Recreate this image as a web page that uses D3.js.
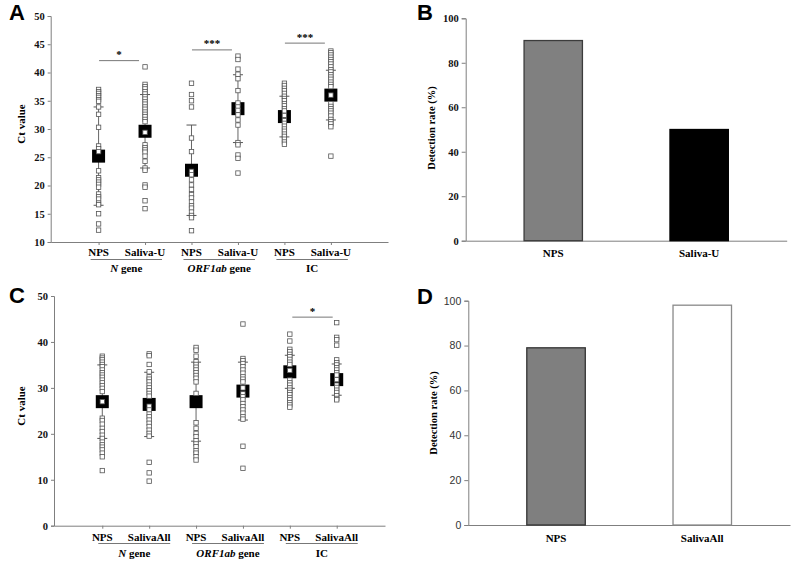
<!DOCTYPE html>
<html><head><meta charset="utf-8">
<script src="https://cdn.jsdelivr.net/npm/d3@7"></script>
<style>body{margin:0;background:#fff}svg{display:block}</style>
</head><body>
<svg id="fig" width="797" height="565"></svg>
<script>
// ---------- DATA ----------
const groupNames = ["N gene", "ORF1ab gene", "IC"];
const catsA = ["NPS", "Saliva-U", "NPS", "Saliva-U", "NPS", "Saliva-U"];
const catsC = ["NPS", "SalivaAll", "NPS", "SalivaAll", "NPS", "SalivaAll"];
const ticksA = [10, 15, 20, 25, 30, 35, 40, 45, 50];
const ticksC = [0, 10, 20, 30, 40, 50];
const ticksBar = [0, 20, 40, 60, 80, 100];

// Panel A: individual Ct values
const aN_NPS = [37.0,36.6,36.3,35.9,35.6,35.2,34.9,33.9,32.6,30.3,27.0,26.5,26.0,22.6,21.4,21.0,20.6,20.2,19.7,18.5,18.0,17.6,16.9,16.6,15.0,13.2,12.1];
const aN_Sal = [41.0,37.9,37.5,37.1,36.6,36.2,35.7,35.3,34.8,34.4,33.9,33.5,33.0,32.6,32.2,31.7,31.3,29.4,27.2,26.7,26.3,25.9,25.2,24.3,23.1,22.7,20.1,19.7,17.3,15.9];
const aORF_NPS = [38.1,36.1,35.0,33.9,28.4,26.0,22.5,21.9,21.0,20.1,19.3,18.4,17.8,17.1,16.4,16.0,15.3,14.7,14.3,12.0];
const aORF_Sal = [42.9,42.3,40.6,39.7,38.9,36.8,34.6,33.9,33.3,32.5,31.6,30.7,27.6,27.2,25.4,24.8,22.2];
const aIC_NPS = [38.1,37.7,37.2,36.8,36.3,35.8,35.4,35.0,34.5,34.1,33.6,33.2,32.4,31.5,31.0,30.5,30.0,29.6,29.1,28.7,28.2,27.7,27.3];
const aIC_Sal = [43.8,43.5,43.1,42.7,42.3,41.9,41.5,41.0,40.5,40.1,39.6,39.2,38.8,38.3,37.9,37.5,36.0,34.5,34.0,33.6,33.2,32.8,32.3,31.7,31.3,30.9,30.4,25.2];
const meansA = [25.2, 29.6, 22.7, 33.6, 32.2, 36.0];
const sdA = [8.7, 6.5, 8.0, 6.0, 3.6, 4.4];
const sigA = [{g:0, y:42.1, label:"*"}, {g:1, y:44.0, label:"***"}, {g:2, y:45.2, label:"***"}];

// Panel C: individual Ct values
const cN_NPS = [36.9,36.5,36.1,35.6,35.1,34.6,33.9,33.3,32.8,32.3,31.7,31.1,30.5,29.9,29.2,27.0,23.4,22.9,22.1,21.2,20.5,19.7,19.0,18.2,17.6,17.1,16.5,15.8,15.0,12.0];
const cN_Sal = [37.4,37.0,35.1,33.5,32.4,31.9,31.3,30.6,30.0,29.4,28.8,28.2,26.0,25.2,24.3,23.7,23.0,22.3,21.6,20.8,20.1,19.5,13.8,11.5,9.7];
const cORF_NPS = [38.8,38.2,36.9,35.7,35.1,34.5,33.9,33.3,32.7,32.1,31.3,28.8,22.4,21.2,20.1,19.4,18.5,17.8,17.2,16.3,15.8,15.0,14.3];
const cORF_Sal = [43.9,36.4,35.9,35.3,34.6,33.9,33.2,32.4,31.9,31.3,30.0,28.7,28.1,27.4,26.6,25.9,25.2,24.5,23.7,23.2,17.3,12.5];
const cIC_NPS = [41.7,40.2,38.4,37.9,37.3,36.8,36.2,35.6,35.1,33.8,31.7,31.1,30.6,30.0,29.5,29.0,28.5,27.9,27.4,26.8,26.3,25.8];
const cIC_Sal = [44.2,41.0,40.5,39.3,36.1,35.5,35.0,34.4,33.9,33.3,32.8,31.8,30.6,30.1,29.5,29.0,28.3,27.7,27.4];
const meansC = [27.0, 26.4, 27.0, 29.3, 33.5, 31.8];
const sdC = [8.0, 7.0, 8.6, 6.3, 3.6, 3.4];
const sigC = [{g:2, y:45.4, label:"*"}];

// Panels B and D: detection rates (%)
const catsB = ["NPS", "Saliva-U"];
const ratesB = [90, 50];
const catsD = ["NPS", "SalivaAll"];
const ratesD = [79, 98];

// ---------- DRAWING ----------
const svg = d3.select("#fig");
const SERIF = "'Liberation Serif','Times New Roman',serif";
const SANS = "'Liberation Sans',Arial,sans-serif";
const AX = "#7f7f7f";

function panelLetter(t, x, y) {
  svg.append("text").attr("x", x).attr("y", y).text(t)
    .attr("font-family", SANS).attr("font-weight", "bold").attr("font-size", 22).attr("fill", "#000");
}

function styleAxis(g, font, weight, color) {
  g.select(".domain").attr("stroke", AX);
  g.selectAll(".tick line").attr("stroke", AX);
  g.selectAll("text").attr("font-family", font).attr("font-weight", weight)
    .attr("font-size", 10.5).attr("fill", color);
}

function scatterPanel(o) {
  const y = d3.scaleLinear().domain(o.yDomain).range([o.yBottom, o.yTop]);
  const x = d3.scalePoint().domain(d3.range(o.cats.length)).range([o.xLeft, o.xRight])
    .padding(o.pad).align(o.align);
  const g = svg.append("g");

  const ya = g.append("g").attr("transform", `translate(${o.xLeft},0)`)
    .call(d3.axisLeft(y).tickValues(o.ticks).tickSize(3).tickPadding(3));
  styleAxis(ya, SERIF, "bold", "#111");
  const xa = g.append("g").attr("transform", `translate(0,${o.yBottom})`)
    .call(d3.axisBottom(x).tickSize(3).tickSizeOuter(0).tickFormat(""));
  styleAxis(xa, SERIF, "bold", "#111");

  g.append("text").attr("transform", `translate(${o.yLabelX},${o.yLabelY}) rotate(-90)`)
    .attr("text-anchor", "middle").text("Ct value").attr("fill", "#000")
    .attr("font-family", SERIF).attr("font-weight", "bold").attr("font-size", 11);

  g.selectAll(".cat").data(o.cats).join("text")
    .attr("x", (d, i) => x(i)).attr("y", o.catY).attr("text-anchor", "middle").text(d => d)
    .attr("fill", "#000").attr("font-family", SERIF).attr("font-weight", "bold").attr("font-size", 11);

  groupNames.forEach((name, gi) => {
    const x0 = x(gi * 2) - o.ulLeft, x1 = x(gi * 2 + 1) + o.ulRight;
    g.append("line").attr("x1", x0).attr("x2", x1).attr("y1", o.ulY).attr("y2", o.ulY)
      .attr("stroke", "#777").attr("stroke-width", 1);
    const t = g.append("text").attr("x", (x0 + x1) / 2).attr("y", o.grpY).attr("text-anchor", "middle")
      .attr("fill", "#000").attr("font-family", SERIF).attr("font-weight", "bold").attr("font-size", 11);
    const parts = name.split(" ");
    t.append("tspan").attr("font-style", parts[0] === "IC" ? "normal" : "italic").text(parts[0]);
    if (parts[1]) t.append("tspan").text(" " + parts[1]);
  });

  o.means.forEach((m, i) => {
    const cx = x(i);
    g.append("line").attr("x1", cx).attr("x2", cx).attr("y1", y(m - o.sd[i])).attr("y2", y(m + o.sd[i]))
      .attr("stroke", "#666").attr("stroke-width", 1);
    [m - o.sd[i], m + o.sd[i]].forEach(v => {
      g.append("line").attr("x1", cx - 5).attr("x2", cx + 5).attr("y1", y(v)).attr("y2", y(v))
        .attr("stroke", "#555").attr("stroke-width", 1);
    });
  });
  g.selectAll(".mean").data(o.means).join("rect")
    .attr("x", (d, i) => x(i) - 6.5).attr("y", d => y(d) - 6.5)
    .attr("width", 13).attr("height", 13).attr("fill", "#000");

  o.points.forEach((arr, i) => {
    g.selectAll(null).data(arr).join("rect")
      .attr("x", x(i) - 2.2).attr("y", d => y(d) - 2.2)
      .attr("width", 4.4).attr("height", 4.4)
      .attr("fill", "#fff").attr("stroke", "#555").attr("stroke-width", 0.8);
  });

  o.sig.forEach(s => {
    const x0 = x(s.g * 2) + o.sigL, x1 = x(s.g * 2 + 1) - o.sigR;
    g.append("line").attr("x1", x0).attr("x2", x1).attr("y1", y(s.y)).attr("y2", y(s.y))
      .attr("stroke", "#777").attr("stroke-width", 1);
    g.append("text").attr("x", (x0 + x1) / 2).attr("y", y(s.y) - 2.5).attr("text-anchor", "middle")
      .text(s.label).attr("fill", "#000").attr("font-family", SERIF).attr("font-weight", "bold").attr("font-size", 11);
  });
}

function barPanel(o) {
  const y = d3.scaleLinear().domain([0, 100]).range([o.yBottom, o.yTop]);
  const x = d3.scaleBand().domain(o.cats).range([o.xLeft, o.xRight]).paddingInner(0.6).paddingOuter(0.4);
  const g = svg.append("g");
  const ya = g.append("g").attr("transform", `translate(${o.xLeft},0)`)
    .call(d3.axisLeft(y).tickValues(ticksBar).tickSize(4).tickPadding(3));
  styleAxis(ya, o.tickFont, o.tickWeight, o.tickColor);
  const xa = g.append("g").attr("transform", `translate(0,${o.yBottom})`)
    .call(d3.axisBottom(x).tickSize(0).tickFormat(""));
  styleAxis(xa, SERIF, "bold", "#111");

  g.selectAll(".bar").data(o.values).join("rect")
    .attr("x", (d, i) => x(o.cats[i])).attr("width", x.bandwidth())
    .attr("y", d => y(d)).attr("height", d => y(0) - y(d))
    .attr("fill", (d, i) => o.fills[i]).attr("stroke", (d, i) => o.strokes[i]).attr("stroke-width", 1.3);

  g.selectAll(".cat").data(o.cats).join("text")
    .attr("x", d => x(d) + x.bandwidth() / 2).attr("y", o.catY).attr("text-anchor", "middle").text(d => d)
    .attr("fill", "#000").attr("font-family", SERIF).attr("font-weight", "bold").attr("font-size", 11);

  g.append("text").attr("transform", `translate(${o.yLabelX},${o.yLabelY}) rotate(-90)`)
    .attr("text-anchor", "middle").text("Detection rate (%)").attr("fill", "#000")
    .attr("font-family", SERIF).attr("font-weight", "bold").attr("font-size", 10.5);
}

scatterPanel({
  cats: catsA, yDomain: [10, 50], ticks: ticksA, yBottom: 242, yTop: 16,
  xLeft: 50.7, xRight: 388, pad: 1.13, align: 0.456,
  means: meansA, sd: sdA, sig: sigA, sigL: 0.5, sigR: 6,
  points: [aN_NPS, aN_Sal, aORF_NPS, aORF_Sal, aIC_NPS, aIC_Sal],
  catY: 255.5, ulY: 259.5, grpY: 272, ulLeft: 8, ulRight: 17,
  yLabelX: 25, yLabelY: 124
});
scatterPanel({
  cats: catsC, yDomain: [0, 50], ticks: ticksC, yBottom: 525.7, yTop: 296,
  xLeft: 54, xRight: 385, pad: 1.03, align: 0.5,
  means: meansC, sd: sdC, sig: sigC, sigL: 2.5, sigR: 4,
  points: [cN_NPS, cN_Sal, cORF_NPS, cORF_Sal, cIC_NPS, cIC_Sal],
  catY: 540.5, ulY: 543.5, grpY: 556.5, ulLeft: 4, ulRight: 21,
  yLabelX: 25, yLabelY: 406
});
barPanel({
  cats: catsB, values: ratesB, yBottom: 240.7, yTop: 18.3, xLeft: 465.7, xRight: 786.7,
  fills: ["#808080", "#000000"], strokes: ["#3c3c3c", "#000000"],
  tickFont: SERIF, tickWeight: "bold", tickColor: "#111",
  catY: 256.5, yLabelX: 435, yLabelY: 128
});
barPanel({
  cats: catsD, values: ratesD, yBottom: 525, yTop: 300.7, xLeft: 468.3, xRight: 790,
  fills: ["#7f7f7f", "#ffffff"], strokes: ["#333333", "#8a8a8a"],
  tickFont: SANS, tickWeight: "normal", tickColor: "#333",
  catY: 541.5, yLabelX: 437, yLabelY: 413
});

panelLetter("A", 9, 20);
panelLetter("B", 417, 20);
panelLetter("C", 9, 303);
panelLetter("D", 417, 304);
</script>
</body></html>
